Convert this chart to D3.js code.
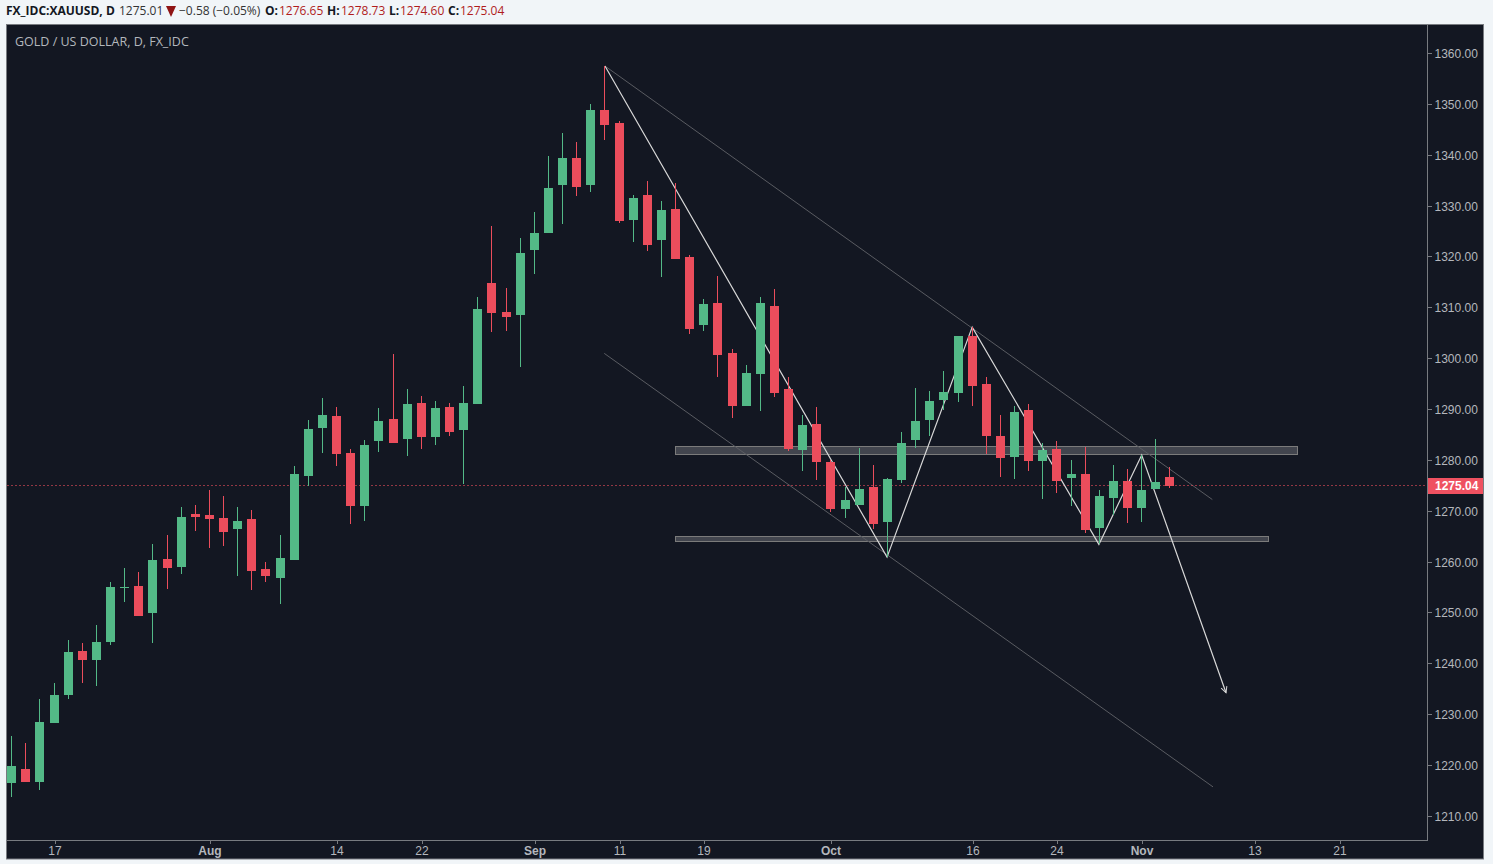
<!DOCTYPE html>
<html lang="en">
<head>
<meta charset="utf-8">
<title>XAUUSD</title>
<script src="https://cdnjs.cloudflare.com/ajax/libs/d3/7.8.5/d3.min.js"></script>
<style>
	html, body { margin: 0; background: #f1f5f8; overflow: hidden; }
	svg { display: block; }
	.axis text { font: 12px "Liberation Sans", Arial, sans-serif; fill: #b4b7bd; }
	.axis line { stroke: #787b80; shape-rendering: crispEdges; }
	.top { font-family: "Open Sans", sans-serif; font-size: 12px; }
</style>
</head>
<body>
<svg id="chart" width="1493" height="864"></svg>
<script>
var opens = [1216.54,1219.30,1216.74,1228.34,1233.85,1242.50,1240.73,1244.27,1254.89,1255.29,
	1249.98,1260.59,1259.02,1269.44,1269.25,1268.66,1266.49,1268.46,1258.63,1256.86,
	1260.40,1276.92,1286.36,1288.71,1281.44,1271.02,1283.80,1288.13,1284.19,1291.27,
	1284.59,1290.48,1285.96,1291.08,1314.87,1309.16,1308.57,1321.36,1324.70,1334.14,
	1339.45,1334.14,1348.89,1346.33,1327.26,1332.17,1323.32,1329.42,1319.98,1306.61,
	1310.93,1301.10,1290.67,1296.97,1310.34,1294.02,1282.02,1287.14,1279.66,1270.42,
	1271.21,1274.75,1267.86,1276.12,1283.99,1287.92,1291.85,1293.23,1304.44,1295.00,
	1284.78,1280.65,1289.89,1279.86,1282.22,1276.52,1277.31,1266.69,1272.59,1275.93,
	1270.62,1274.36,1276.65];
var highs = [1225.79,1224.41,1233.06,1236.21,1244.67,1244.08,1247.62,1256.07,1258.82,1258.04,
	1263.54,1265.31,1270.82,1271.21,1274.16,1272.98,1270.82,1270.23,1260.00,1265.31,
	1278.88,1287.93,1292.26,1290.48,1282.23,1284.00,1290.29,1300.91,1294.02,1292.65,
	1291.66,1291.27,1294.61,1312.12,1326.08,1313.88,1323.72,1328.83,1339.84,1344.36,
	1342.59,1350.07,1357.54,1346.72,1332.17,1334.92,1330.99,1334.53,1320.37,1311.72,
	1316.24,1301.89,1298.74,1312.11,1313.69,1296.38,1288.90,1290.48,1280.06,1274.75,
	1282.42,1279.07,1276.52,1285.56,1294.21,1293.62,1297.56,1304.44,1306.21,1296.38,
	1288.91,1290.68,1291.07,1283.34,1283.79,1280.06,1282.68,1274.16,1279.08,1278.29,
	1281.04,1284.19,1278.73];
var lows = [1213.79,1216.74,1215.17,1228.34,1233.06,1236.21,1235.62,1243.68,1252.14,1249.39,
	1244.08,1254.69,1257.64,1266.10,1262.76,1263.15,1257.25,1254.50,1256.07,1251.75,
	1260.40,1274.95,1281.44,1278.88,1267.48,1268.07,1281.64,1283.41,1280.85,1282.23,
	1283.01,1284.78,1275.34,1291.08,1305.23,1305.43,1298.35,1316.64,1324.70,1326.47,
	1331.98,1332.76,1342.99,1326.67,1322.93,1321.16,1316.05,1319.59,1304.84,1305.43,
	1296.38,1288.32,1290.67,1289.69,1292.44,1281.83,1277.89,1276.12,1269.83,1268.65,
	1271.21,1266.49,1260.98,1275.53,1282.42,1284.78,1289.89,1291.46,1290.67,1281.24,
	1276.72,1276.32,1277.90,1272.39,1273.57,1271.01,1265.70,1263.54,1269.24,1267.67,
	1267.87,1274.36,1274.60];
var closes = [1219.89,1216.74,1228.54,1233.85,1242.31,1240.73,1244.27,1255.09,1255.09,1249.39,
	1260.40,1258.82,1268.85,1268.85,1268.46,1265.90,1268.07,1258.23,1257.25,1260.79,
	1277.31,1286.16,1288.91,1281.24,1271.02,1283.01,1287.73,1283.41,1291.08,1284.59,
	1290.29,1285.57,1291.27,1309.76,1308.97,1308.18,1320.77,1324.70,1333.55,1339.45,
	1333.75,1348.89,1345.94,1327.06,1331.58,1322.34,1329.22,1319.59,1305.82,1310.74,
	1300.71,1290.68,1297.16,1310.93,1293.23,1282.22,1286.94,1279.66,1270.42,1272.19,
	1274.35,1267.47,1276.32,1283.40,1287.72,1291.66,1293.43,1304.44,1294.61,1284.78,
	1280.45,1289.50,1279.86,1282.03,1275.93,1277.31,1266.29,1272.98,1275.93,1270.62,
	1274.16,1275.73,1275.04];

var priceTicks = [1210,1220,1230,1240,1250,1260,1270,1280,1290,1300,1310,1320,1330,1340,1350,1360];
var dateTickIndex = [3,14,23,29,37,43,49,58,68,74,80,88,94];
var dateTickLabels = ["17","Aug","14","22","Sep","11","19","Oct","16","24","Nov","13","21"];
var monthLabels = ["Aug","Sep","Oct","Nov"];
var lastPrice = 1275.04;

// drawings on the chart, as [bar index, price]
var channelUpper = [[42,1357.54],[85,1272.3]];
var channelLower = [[41.95,1301.04],[85.05,1215.8]];
var zigzag = [[42,1357.54],[61.97,1260.98],[68,1306.21],[76.97,1263.48],[80,1281.04],[85.97,1234.3]];
var zoneUpper = [46.95,90.97,1282.75,1281.17];
var zoneLower = [46.95,88.9,1265.05,1264.05];

var headerItems = [
	["FX_IDC:XAUUSD, D",6,"#131722",700],
	["1275.01",119,"#333",400],
	["\u22120.58 (\u22120.05%)",179,"#333",400],
	["O:",265,"#131722",700],["1276.65",279,"#b01c1c",400],
	["H:",327,"#131722",700],["1278.73",341,"#b01c1c",400],
	["L:",389,"#131722",700],["1274.60",400,"#b01c1c",400],
	["C:",448,"#131722",700],["1275.04",460,"#b01c1c",400]
];

var up = "#53b987", down = "#eb4d5c", panel = "#131722", edge = "#787b80";

var svg = d3.select("#chart");
var x = d3.scaleLinear().domain([0,82]).range([11.7,1169.95]);
var y = d3.scaleLinear().domain([1360,1210]).range([53.5,816.4]);
var cx = function(i) { return Math.floor(x(i)) + 0.5; };

function pathOf(points) {
	return d3.line().x(function(d){return x(d[0]);}).y(function(d){return y(d[1]);})(points);
}

// panel
svg.append("rect").attr("x",6.5).attr("y",24.5).attr("width",1477).attr("height",834.5)
	.attr("fill",panel).attr("stroke",edge);

// header
svg.selectAll("text.top").data(headerItems).enter().append("text")
	.attr("class","top")
	.attr("x",function(d){return d[1];})
	.attr("y",15)
	.attr("fill",function(d){return d[2];})
	.attr("font-weight",function(d){return d[3];})
	.text(function(d){return d[0];});
svg.append("path").attr("d","M166,6h10l-5,11z").attr("fill","#8f1414");
svg.append("text").attr("class","top").attr("x",15).attr("y",46).attr("fill","#b4b7bd")
	.style("font-size","12.5px")
	.text("GOLD / US DOLLAR, D, FX_IDC");

// zones
[zoneUpper,zoneLower].forEach(function(z){
	svg.append("rect")
		.attr("x",Math.round(x(z[0]))+0.5).attr("y",Math.round(y(z[2]))+0.5)
		.attr("width",Math.round(x(z[1])-x(z[0]))).attr("height",Math.round(y(z[3])-y(z[2])))
		.attr("fill","rgba(255,255,255,0.2)").attr("stroke","#7b7b7b");
});

// channel
[channelUpper,channelLower].forEach(function(c){
	svg.append("path").attr("d",pathOf(c)).attr("fill","none").attr("stroke","#5a5c62");
});

// price line
svg.append("line").attr("x1",7).attr("x2",1427)
	.attr("y1",Math.floor(y(lastPrice))+0.5).attr("y2",Math.floor(y(lastPrice))+0.5)
	.attr("stroke",down).attr("stroke-opacity",0.6).attr("stroke-dasharray","2 2");

// zigzag with arrow
svg.append("marker").attr("id","arrow").attr("markerUnits","userSpaceOnUse")
	.attr("markerWidth",12).attr("markerHeight",12).attr("refX",9).attr("refY",6).attr("orient","auto")
	.append("path").attr("d","M3,3L9,6L3,9").attr("fill","none").attr("stroke","#d8d8d8");
svg.append("path").attr("d",pathOf(zigzag)).attr("fill","none").attr("stroke","#d8d8d8")
	.attr("stroke-width",1.2).attr("marker-end","url(#arrow)");

// candles
var bars = d3.range(opens.length).map(function(i){
	return {i:i, o:opens[i], h:highs[i], l:lows[i], c:closes[i]};
});
var candle = svg.append("g").attr("shape-rendering","crispEdges").selectAll("g").data(bars).enter().append("g");
var barColor = function(d) { return d.c >= d.o ? up : down; };
candle.append("line")
	.attr("x1",function(d){return cx(d.i);}).attr("x2",function(d){return cx(d.i);})
	.attr("y1",function(d){return y(d.h);}).attr("y2",function(d){return y(d.l);})
	.attr("stroke",barColor);
candle.append("rect")
	.attr("x",function(d){return cx(d.i)-4.5;})
	.attr("width",9)
	.attr("y",function(d){return Math.round(y(Math.max(d.o,d.c)));})
	.attr("height",function(d){
		return Math.max(1,Math.round(y(Math.min(d.o,d.c)))-Math.round(y(Math.max(d.o,d.c))));
	})
	.attr("fill",barColor);

// axes
var yAxis = svg.append("g").attr("class","axis").attr("transform","translate(1427,0)")
	.call(d3.axisRight(y).tickValues(priceTicks).tickFormat(d3.format(".2f")).tickSize(4).tickPadding(3));
yAxis.select(".domain").remove();
yAxis.selectAll(".tick").attr("transform",function(d){return "translate(0.5,"+(Math.floor(y(d))+0.5)+")";});
yAxis.selectAll("text").attr("y",1);

var xAxis = svg.append("g").attr("class","axis").attr("transform","translate(0,840)")
	.call(d3.axisBottom(x).tickValues(dateTickIndex)
		.tickFormat(function(d,i){return dateTickLabels[i];}).tickSize(3).tickPadding(3));
xAxis.select(".domain").remove();
xAxis.selectAll(".tick").attr("transform",function(d){return "translate("+(Math.floor(x(d))+1.5)+",0.5)";});
xAxis.selectAll("text").attr("x",-0.5).style("font-weight",function(d,i){
	return monthLabels.indexOf(dateTickLabels[i]) >= 0 ? "bold" : "normal";
});

svg.append("line").attr("x1",1427.5).attr("x2",1427.5).attr("y1",25).attr("y2",840).attr("stroke",edge);
svg.append("line").attr("x1",7).attr("x2",1428).attr("y1",840.5).attr("y2",840.5).attr("stroke",edge);

// last price tag
svg.append("rect").attr("x",1428).attr("y",Math.floor(y(lastPrice))-7).attr("width",55).attr("height",16).attr("fill","#ef5161");
svg.append("text").attr("x",1435).attr("y",Math.floor(y(lastPrice))+5)
	.style("font","bold 12px 'Liberation Sans', Arial, sans-serif").attr("fill","#fff")
	.text(d3.format(".2f")(lastPrice));
</script>
</body>
</html>
